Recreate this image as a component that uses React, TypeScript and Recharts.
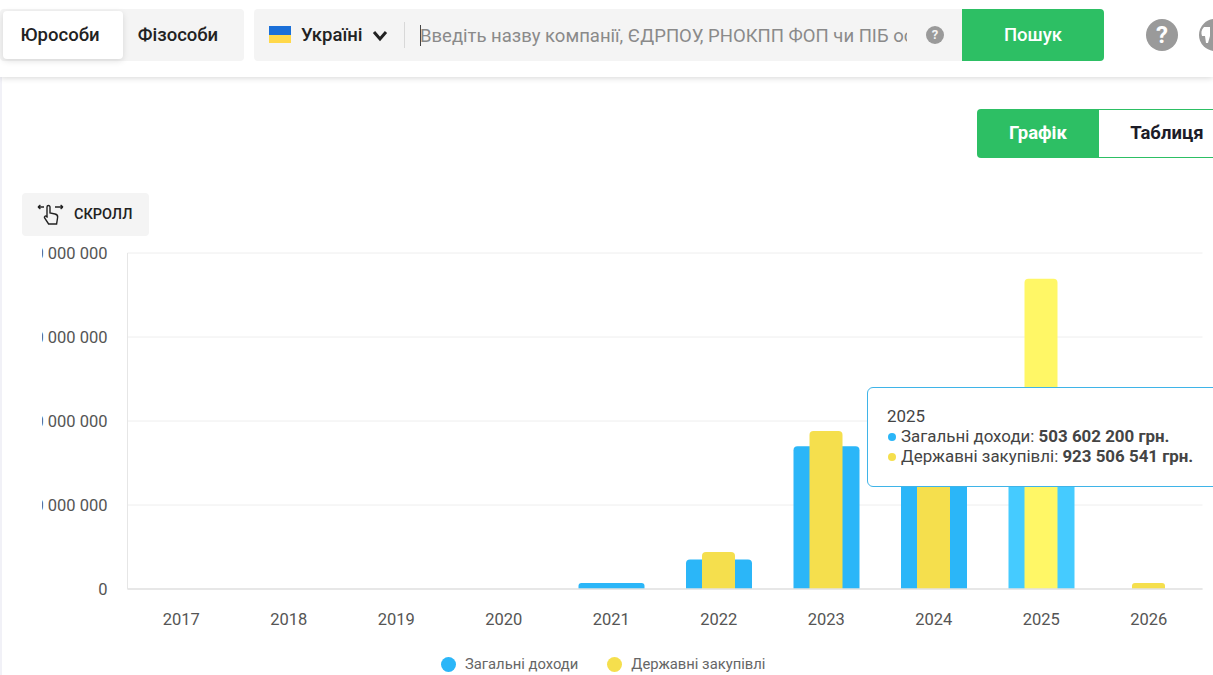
import React from "react";
import { BarChart, Bar, Cell, XAxis, YAxis, CartesianGrid, Tooltip, Legend } from "recharts";

const years = ["2017", "2018", "2019", "2020", "2021", "2022", "2023", "2024", "2025", "2026"];
const incomes = [0, 0, 0, 0, 18000000, 88000000, 425000000, 450000000, 503602200, 0];
const tenders = [0, 0, 0, 0, 0, 110000000, 470000000, 380000000, 923506541, 18000000];
const yTicks = [0, 250000000, 500000000, 750000000, 1000000000];
const activeYear = "2025";

const incomeName = "Загальні доходи";
const tenderName = "Державні закупівлі";

const data = years.map((year, i) => ({ year, incomes: incomes[i], tenders: tenders[i] }));

const FONT = "Roboto, sans-serif";
const BLUE = "#2bb6f8";
const BLUE_ACTIVE = "#45cbff";
const YELLOW = "#f5df4d";
const YELLOW_ACTIVE = "#fff766";
const GREEN = "#2dbf64";

const fmt = (v: number) => String(v).replace(/\B(?=(\d{3})+$)/g, " ");

function box(left: number, top: number, width: number, height: number, extra: React.CSSProperties = {}): React.CSSProperties {
  return { position: "absolute", left, top, width, height, boxSizing: "border-box", ...extra };
}

function label(left: number, top: number, width: number, height: number, size: number, color: string, weight = 400, align: "left" | "center" = "center"): React.CSSProperties {
  return box(left, top, width, height, { fontSize: size, color, fontWeight: weight, lineHeight: height + "px", textAlign: align, whiteSpace: "nowrap", overflow: "hidden" });
}

function TooltipBox({ payload }: any) {
  const rows = payload || [];
  return (
    <div style={{ width: 400, height: 100, boxSizing: "border-box", background: "#fff", border: "1.5px solid #3fb4e8", borderRadius: 6, padding: "18px 19px", fontFamily: FONT, fontSize: 16.9, lineHeight: "20px", color: "#444", whiteSpace: "nowrap" }}>
      <div>{rows.length ? rows[0].payload.year : ""}</div>
      {rows.map((r: any) => (
        <div key={r.dataKey}>
          <span style={{ display: "inline-block", width: 8, height: 8, borderRadius: 4, marginLeft: 1, marginRight: 5, verticalAlign: 1, background: r.dataKey === "incomes" ? BLUE : YELLOW }} />
          {r.name}: <b>{fmt(r.value)} грн.</b>
        </div>
      ))}
    </div>
  );
}

function LegendRow({ payload }: any) {
  return (
    <div style={{ display: "flex", fontFamily: FONT, fontSize: 14.8, color: "#666", lineHeight: "16px" }}>
      {(payload || []).map((p: any) => (
        <div key={p.value} style={{ display: "flex", alignItems: "center", marginRight: 29 }}>
          <span style={{ width: 15, height: 15, borderRadius: 8, marginRight: 9, background: p.dataKey === "incomes" ? BLUE : YELLOW }} />
          {p.value}
        </div>
      ))}
    </div>
  );
}

function HandIcon() {
  return (
    <svg style={box(36, 202, 30, 26)} viewBox="0 0 30 26" fill="none" stroke="#222" strokeWidth="1.4">
      <path d="M11 15 V5 a1.5 1.5 0 0 1 3 0 V11 l5 1 c2 .5 3 1.5 2.6 3.5 l-1 6.5 h-8 l-4-6 c-.8-1.5 1-2.6 2-1.4 l1 1" />
      <path d="M2 5 h6 M2 5 l2.4-2 M2 5 l2.4 2 M19 5 h8 M27 5 l-2.4-2 M27 5 l-2.4 2" strokeWidth="1.3" />
    </svg>
  );
}

function Header() {
  return (
    <>
      <div style={box(0, 77, 2, 598, { background: "#f1f1f7" })} />
      <div style={box(0, 0, 1213, 77, { background: "#fff", boxShadow: "0 1px 6px rgba(0,0,0,0.16)" })} />
      <div style={box(0, 9, 244, 52, { background: "#f4f4f4", borderRadius: 4 })} />
      <div style={box(3, 11, 120, 48, { background: "#fff", borderRadius: 4, boxShadow: "0 2px 6px rgba(0,0,0,0.12)" })} />
      <div style={label(3, 11, 114, 48, 18.5, "#222", 500)}>Юрособи</div>
      <div style={label(122, 11, 112, 48, 18.5, "#222", 500)}>Фізособи</div>

      <div style={box(254, 9, 710, 52, { background: "#f4f4f4", borderRadius: 4 })} />
      <div style={box(269, 26, 22, 9, { background: "#1a6fd8" })} />
      <div style={box(269, 35, 22, 8, { background: "#ffd84a" })} />
      <div style={label(301, 10, 70, 50, 18.5, "#222", 500, "left")}>Україні</div>
      <svg style={box(372, 30, 16, 12)} viewBox="0 0 16 12" fill="none" stroke="#222" strokeWidth="3">
        <path d="M2 2 L8 9 L14 2" />
      </svg>
      <div style={box(404, 22, 1, 26, { background: "#d8d8d8" })} />
      <div style={box(420, 25, 1, 21, { background: "#444" })} />
      <div style={label(420, 11, 487, 50, 18.5, "#8a8a8a", 400, "left")}>Введіть назву компанії, ЄДРПОУ, РНОКПП ФОП чи ПІБ особи</div>
      <div style={label(926, 26, 18, 18, 13, "#f4f4f4", 700)}>
        <span style={box(0, 0, 18, 18, { background: "#9a9a9a", borderRadius: 9 })} />
        <span style={{ position: "relative" }}>?</span>
      </div>
      <div style={label(962, 9, 142, 52, 18.5, "#fff", 500)}>
        <span style={box(0, 0, 142, 52, { background: GREEN, borderRadius: "0 4px 4px 0" })} />
        <span style={{ position: "relative" }}>Пошук</span>
      </div>
      <div style={label(1146, 19, 32, 32, 24, "#fff", 700)}>
        <span style={box(0, 0, 32, 32, { background: "#9a9a9a", borderRadius: 16 })} />
        <span style={{ position: "relative" }}>?</span>
      </div>
      <div style={box(1199, 19, 32, 32, { background: "#9a9a9a", borderRadius: 16 })} />
      <svg style={box(1199, 24, 14, 22)} viewBox="0 0 14 22" fill="#fff">
        <path d="M5 3 h6 v9 l-2 7 h-2 l-1-7 h-3 c-1-3-1-6 2-9 z" />
      </svg>

      <div style={label(977, 109, 122, 49, 18.5, "#fff", 700)}>
        <span style={box(0, 0, 122, 49, { background: GREEN, borderRadius: "4px 0 0 4px" })} />
        <span style={{ position: "relative" }}>Графік</span>
      </div>
      <div style={box(1098, 109, 130, 49, { border: "1px solid " + GREEN, borderLeft: "none" })} />
      <div style={label(1098, 109, 138, 49, 18.5, "#1c1c28", 700)}>Таблиця</div>

      <div style={box(22, 193, 127, 43, { background: "#f4f4f4", borderRadius: 4 })} />
      <HandIcon />
      <div style={label(74, 193, 70, 43, 14.5, "#222", 500, "left")}>СКРОЛЛ</div>
    </>
  );
}

export default function App() {
  return (
    <div style={{ position: "fixed", left: 0, top: 0, width: 1213, height: 675, overflow: "hidden", background: "#fff", fontFamily: FONT }}>
      <Header />
      <div style={box(42, 240, 1171, 435, { overflow: "hidden" })}>
        <div style={{ position: "absolute", left: -102, top: 0 }}>
          <BarChart width={1273} height={435} data={data} margin={{ top: 13, right: 10.5, bottom: 0, left: 0 }}>
            <CartesianGrid stroke="#eeeeee" vertical={false} xAxisId="front" />
            <XAxis xAxisId="back" dataKey="year" height={66} tickLine={false} tickSize={0} tickMargin={24} axisLine={{ stroke: "#e2e2e2", strokeWidth: 1.5 }} tick={{ fill: "#555", fontSize: 16.5, fontFamily: FONT }} interval={0} />
            <XAxis xAxisId="front" dataKey="year" hide />
            <YAxis width={187.5} domain={[0, 1000000000]} ticks={yTicks} tickFormatter={fmt} tickLine={false} tickSize={0} tickMargin={20} axisLine={{ stroke: "#e6e6e6" }} tick={{ fill: "#555", fontSize: 16.5, fontFamily: FONT }} />
            <Tooltip defaultIndex={years.indexOf(activeYear)} cursor={false} content={<TooltipBox />} position={{ x: 927, y: 147 }} allowEscapeViewBox={{ x: true, y: true }} isAnimationActive={false} />
            <Legend itemSorter="dataKey" content={<LegendRow />} wrapperStyle={{ left: 501, top: 416, width: 500, height: 20 }} />
            <Bar xAxisId="back" dataKey="incomes" name={incomeName} barSize={66} fill={BLUE} radius={[4, 4, 0, 0]} isAnimationActive={false}>
              {years.map((y) => (
                <Cell key={y} fill={y === activeYear ? BLUE_ACTIVE : BLUE} />
              ))}
            </Bar>
            <Bar xAxisId="front" dataKey="tenders" name={tenderName} barSize={33} fill={YELLOW} radius={[4, 4, 0, 0]} isAnimationActive={false}>
              {years.map((y) => (
                <Cell key={y} fill={y === activeYear ? YELLOW_ACTIVE : YELLOW} />
              ))}
            </Bar>
          </BarChart>
        </div>
      </div>
    </div>
  );
}
